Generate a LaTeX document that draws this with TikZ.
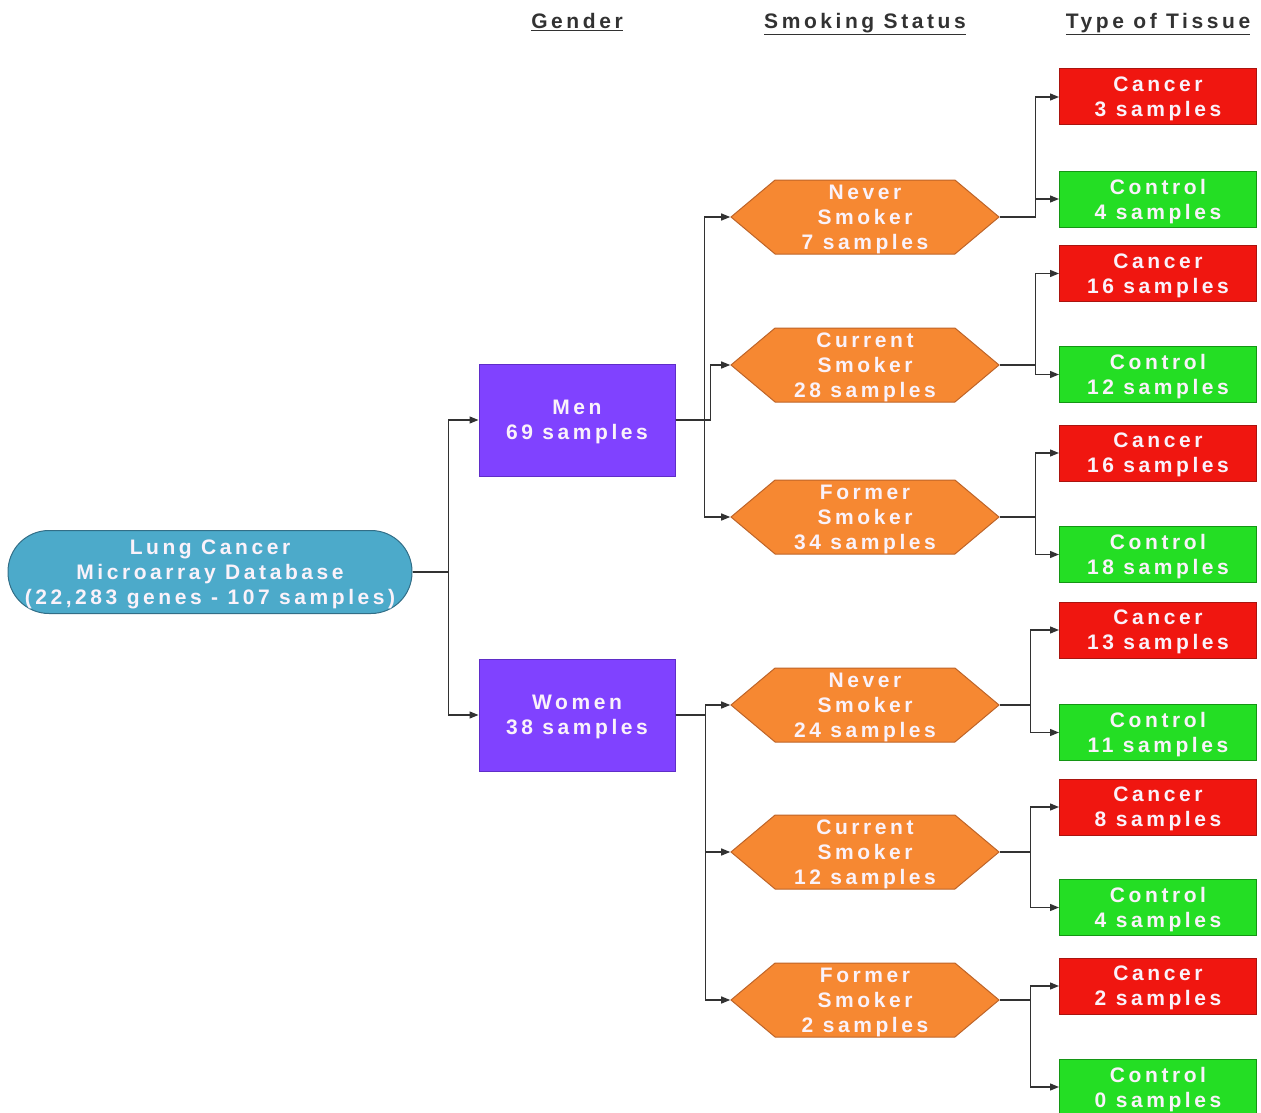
\documentclass[tikz,border=0pt]{standalone}
\usepackage{fontspec}
\setmainfont{Liberation Sans}[LetterSpace=17]
\usetikzlibrary{arrows.meta,shapes.symbols}
\definecolor{rootc}{RGB}{76,170,202}
\definecolor{rootd}{RGB}{50,110,135}
\definecolor{purc}{RGB}{128,66,255}
\definecolor{purd}{RGB}{95,45,200}
\definecolor{orac}{RGB}{246,136,50}
\definecolor{orad}{RGB}{190,100,40}
\definecolor{redc}{RGB}{240,22,16}
\definecolor{redd}{RGB}{170,20,15}
\definecolor{grec}{RGB}{36,222,36}
\definecolor{gred}{RGB}{20,150,20}
\definecolor{txtc}{RGB}{250,242,250}
\definecolor{hdrc}{RGB}{50,50,50}
\definecolor{linec}{RGB}{50,50,50}
\begin{document}
\begin{tikzpicture}[x=1pt,y=-1pt,
  every node/.style={font=\fontsize{21}{25}\selectfont\bfseries, text=txtc, align=center, inner sep=0pt, text depth=-2pt},
  rootbox/.style={draw=rootd, fill=rootc, rounded corners=41pt, minimum width=404pt, minimum height=83pt, line width=1pt},
  genbox/.style={draw=purd, fill=purc, minimum width=196pt, minimum height=112pt, line width=1pt},
  hexbox/.style={shape=signal, signal to=west and east, signal pointer angle=80, draw=orad, fill=orac, minimum width=268pt, minimum height=74pt, line width=1pt},
  cancerbox/.style={draw=redd, fill=redc, minimum width=197pt, minimum height=56pt, line width=1pt},
  controlbox/.style={draw=gred, fill=grec, minimum width=197pt, minimum height=56pt, line width=1pt},
  hdr/.style={text=hdrc, text depth=0pt},
  conn/.style={draw=linec, line width=1.3pt, -{Triangle[length=9pt,width=7pt]}},
]
\useasboundingbox (0,0) rectangle (1261,1113);
% headers
\node[hdr] (hg) at (577,21) {\underline{Gender}};
\node[hdr] (hs) at (865,21) {\underline{Smoking Status}};
\node[hdr] (ht) at (1158,21) {\underline{Type of Tissue}};
% root
\node[rootbox] (root) at (210,572) {Lung Cancer\\Microarray Database\\(22,283 genes - 107 samples)};
% gender
\node[genbox] (men) at (577,420) {Men\\69 samples};
\node[genbox] (women) at (577,715) {Women\\38 samples};
% smoking
\node[hexbox] (mn) at (865,217) {Never\\Smoker\\7 samples};
\node[hexbox] (mc) at (865,365) {Current\\Smoker\\28 samples};
\node[hexbox] (mf) at (865,517) {Former\\Smoker\\34 samples};
\node[hexbox] (wn) at (865,705) {Never\\Smoker\\24 samples};
\node[hexbox] (wc) at (865,852) {Current\\Smoker\\12 samples};
\node[hexbox] (wf) at (865,1000) {Former\\Smoker\\2 samples};
% tissue
\node[cancerbox] (t1) at (1158,97) {Cancer\\3 samples};
\node[controlbox] (t2) at (1158,199) {Control\\4 samples};
\node[cancerbox] (t3) at (1158,273.5) {Cancer\\16 samples};
\node[controlbox] (t4) at (1158,374.5) {Control\\12 samples};
\node[cancerbox] (t5) at (1158,453) {Cancer\\16 samples};
\node[controlbox] (t6) at (1158,554.5) {Control\\18 samples};
\node[cancerbox] (t7) at (1158,630) {Cancer\\13 samples};
\node[controlbox] (t8) at (1158,732.5) {Control\\11 samples};
\node[cancerbox] (t9) at (1158,807) {Cancer\\8 samples};
\node[controlbox] (t10) at (1158,907.5) {Control\\4 samples};
\node[cancerbox] (t11) at (1158,986) {Cancer\\2 samples};
\node[controlbox] (t12) at (1158,1087) {Control\\0 samples};
% connectors
\draw[conn] (root.east) -- ++(36,0) |- (men.west);
\draw[conn] (root.east) -- ++(36,0) |- (women.west);
\draw[conn] (men.east) -- ++(29,0) |- (mn.west);
\draw[conn] (men.east) -- ++(35,0) |- (mc.west);
\draw[conn] (men.east) -- ++(29,0) |- (mf.west);
\draw[conn] (women.east) -- ++(30,0) |- (wn.west);
\draw[conn] (women.east) -- ++(30,0) |- (wc.west);
\draw[conn] (women.east) -- ++(30,0) |- (wf.west);
\draw[conn] (mn.east) -- ++(36,0) |- (t1.west);
\draw[conn] (mn.east) -- ++(36,0) |- (t2.west);
\draw[conn] (mc.east) -- ++(36,0) |- (t3.west);
\draw[conn] (mc.east) -- ++(36,0) |- (t4.west);
\draw[conn] (mf.east) -- ++(36,0) |- (t5.west);
\draw[conn] (mf.east) -- ++(36,0) |- (t6.west);
\draw[conn] (wn.east) -- ++(31,0) |- (t7.west);
\draw[conn] (wn.east) -- ++(31,0) |- (t8.west);
\draw[conn] (wc.east) -- ++(31,0) |- (t9.west);
\draw[conn] (wc.east) -- ++(31,0) |- (t10.west);
\draw[conn] (wf.east) -- ++(31,0) |- (t11.west);
\draw[conn] (wf.east) -- ++(31,0) |- (t12.west);
\end{tikzpicture}
\end{document}
